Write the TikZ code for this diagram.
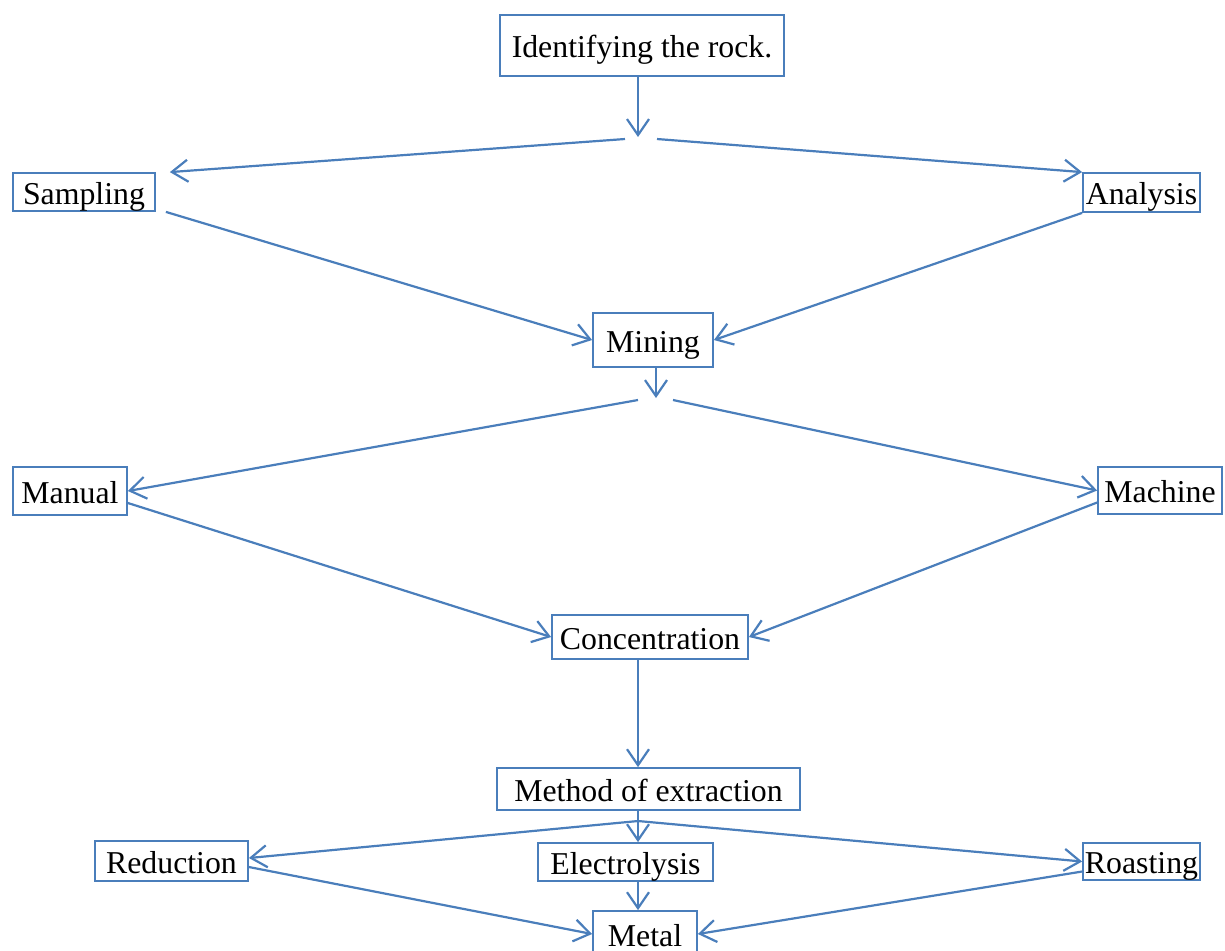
\documentclass[tikz,border=0pt]{standalone}
\usepackage{fontspec}
\setmainfont{Liberation Serif}
\usetikzlibrary{arrows.meta, positioning, calc}
\definecolor{flowblue}{RGB}{74, 126, 187}

\begin{document}
\begin{tikzpicture}[x=0.5pt, y=-0.5pt,
  every node/.style={font=\fontsize{15.9}{18}\selectfont, inner sep=0pt, text height=12pt, text depth=0pt},
  stage/.style={draw=flowblue, line width=0.9pt, fill=white},
  arr/.style={-{Straight Barb[length=8pt, width=11pt, line width=1.1pt]}, line width=1.1pt, flowblue},
  lin/.style={line width=1.1pt, flowblue},
]
  \clip (0,0) rectangle (1225,950);
  \node[stage, minimum width=142pt, minimum height=30.5pt] (ident) at (642, 45.5) {Identifying the rock.};
  \node[stage, minimum width=71pt, minimum height=19pt] (samp) at (84, 192) {Sampling};
  \node[stage, minimum width=58.5pt, minimum height=19.5pt] (anal) at (1141.5, 192.5) {Analysis};
  \node[stage, minimum width=60pt, minimum height=27pt] (mine) at (653, 340) {Mining};
  \node[stage, minimum width=57pt, minimum height=24pt] (manual) at (70, 491) {Manual};
  \node[stage, minimum width=62pt, minimum height=23.5pt] (machine) at (1160, 490.5) {Machine};
  \node[stage, minimum width=98pt, minimum height=22pt] (conc) at (650, 637) {Concentration};
  \node[stage, minimum width=151.5pt, minimum height=21pt] (method) at (648.5, 789) {Method of extraction};
  \node[stage, minimum width=76.5pt, minimum height=20pt] (red) at (171.5, 861) {Reduction};
  \node[stage, minimum width=87.5pt, minimum height=19pt] (elec) at (625.5, 862) {Electrolysis};
  \node[stage, minimum width=58.5pt, minimum height=18.5pt] (roast) at (1141.5, 861.5) {Roasting};
  \node[stage, minimum width=52pt, minimum height=23pt] (metal) at (645, 934) {Metal};

  \coordinate (s1) at (638, 137);
  \coordinate (s1l) at (625, 139);
  \coordinate (s1r) at (657, 139);
  \coordinate (s2) at (656, 398);
  \coordinate (s2l) at (638, 400);
  \coordinate (s2r) at (673, 400);
  \coordinate (s3) at (638, 821);

  \draw[arr] (ident.south -| s1) -- (s1);
  \draw[arr] (s1l) -- ([xshift=7pt]samp.north east);
  \draw[arr] (s1r) -- (anal.north west);
  \draw[arr] ([xshift=5pt]samp.south east) -- (mine.west);
  \draw[arr] (anal.south west) -- (mine.east);

  \draw[arr] (mine.south -| s2) -- (s2);
  \draw[arr] (s2l) -- (manual.east);
  \draw[arr] (s2r) -- (machine.west);
  \draw[arr] ([yshift=-6pt]manual.east) -- (conc.west);
  \draw[arr] ([yshift=-6pt]machine.west) -- (conc.east);

  \draw[arr] (conc.south -| s3) -- (method.north -| s3);
  \draw[lin] (method.south -| s3) -- (s3);
  \draw[arr] (s3) -- ([yshift=1.5pt]red.east);
  \draw[arr] (s3) -- (elec.north -| s3);
  \draw[arr] (s3) -- (roast.west);
  \draw[arr] ([yshift=-3pt]red.east) -- (metal.west);
  \draw[arr] (elec.south -| s3) -- (metal.north -| s3);
  \draw[arr] ([yshift=-5pt]roast.west) -- (metal.east);
\end{tikzpicture}
\end{document}
